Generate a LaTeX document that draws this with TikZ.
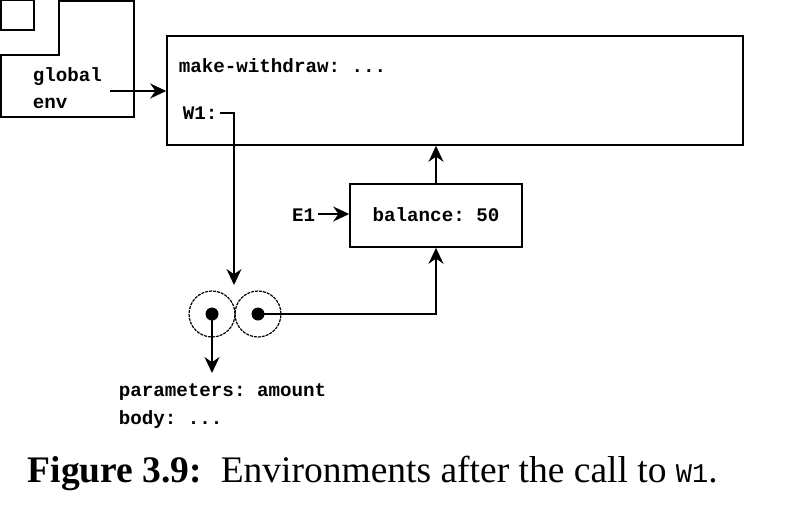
\documentclass[tikz,border=0pt]{standalone}
\usepackage{fontspec}
\setmainfont{Liberation Serif}
\setmonofont{Liberation Mono}
\usetikzlibrary{arrows.meta}
\begin{document}
\begin{tikzpicture}[x=1pt,y=-1pt,
  line width=1.6pt,
  arr/.style={-{Stealth[length=16pt,width=15pt]}},
  code/.style={font=\fontsize{19.2}{23}\selectfont\ttfamily\bfseries, inner sep=0pt, anchor=base west},
  framebox/.style={draw, line width=1.6pt},
  pairc/.style={draw, circle, minimum size=46pt, inner sep=0pt, line width=1.2pt, dash pattern=on 3pt off 1pt},
  dotc/.style={fill, circle, minimum size=13pt, inner sep=0pt}]
\useasboundingbox (0,0) rectangle (799,504);
% global env
\draw[framebox] (1,0) rectangle (34,30);
\draw[framebox] (1,55) -- (59,55) -- (59,1) -- (134,1) -- (134,117) -- (1,117) -- cycle;
\node[code] (glb) at (32,81) {global};
\node[code] (env) at (32,108) {env};
\coordinate (gstart) at (110,91);
% main frame
\node[framebox, minimum width=576pt, minimum height=109pt, inner sep=0pt] (G) at (455,90.5) {};
\node[code] (mw) at (178,72) {make-withdraw: ...};
\node[code] (w1) at (182,119) {W1:};
% E1 frame
\node[framebox, minimum width=172pt, minimum height=63pt, inner sep=0pt] (E1) at (436,215.5) {};
\node[code, anchor=base] (bal) at (436,221) {balance: 50};
\node[code, anchor=base east] (e1l) at (316,221) {E1};
% procedure object
\node[pairc] (c1) at (212,314) {};
\node[pairc] (c2) at (258,314) {};
\node[dotc] (d1) at (212,314) {};
\node[dotc] (d2) at (258,314) {};
\node[code] (par) at (118,396) {parameters: amount};
\node[code] (body) at (118,424) {body: ...};
% connectors
\draw[arr] (gstart) -- (G.west |- gstart);
\coordinate (w1e) at (220,113);
\draw[arr] (w1e) -- (234,113) -- (234,285);
\draw[arr] (E1.north) -- (E1.north |- G.south);
\draw[arr] (318,214) -- (E1.west |- 0,214);
\draw[arr] (d2.center) -- (E1.south |- d2.center) -- (E1.south);
\draw[arr] (d1.center) -- (212,373);
% caption
\node[anchor=base west, inner sep=0pt, font=\fontsize{37.5}{44}\selectfont] (cap) at (27,482)
  {\textbf{Figure 3.9:}\enspace Environments after the call to {\fontsize{27}{30}\selectfont\ttfamily W1}.};
\end{tikzpicture}
\end{document}
